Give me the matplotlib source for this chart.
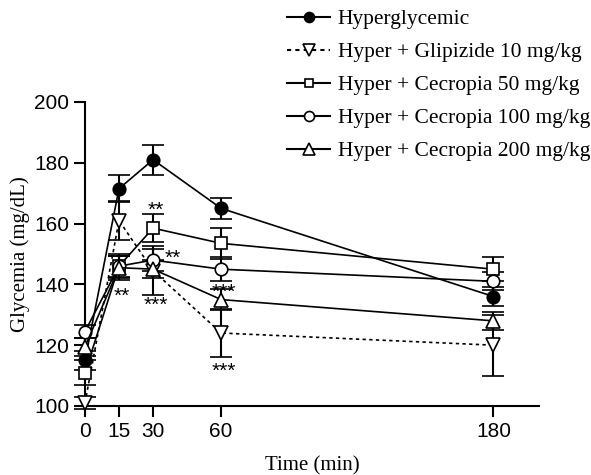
import matplotlib
matplotlib.use("Agg")
import matplotlib.pyplot as plt
from matplotlib.lines import Line2D

# time points (min)
time = [0, 15, 30, 60, 180]

# glycemia means and SEM (mg/dL)
hyper = [115, 171.5, 181, 165, 136]
hyper_err = [3, 4.5, 5, 3.5, 3]
glipizide = [101, 161, 144.5, 124, 120]
glipizide_err = [2, 6.5, 8, 8, 10]
cec50 = [111, 146, 158.5, 153.5, 145]
cec50_err = [4, 4, 4.5, 5, 4]
cec100 = [124.5, 146, 148, 145, 141]
cec100_err = [2, 3.5, 3.5, 4, 3]
cec200 = [119.5, 145.5, 145, 135, 128]
cec200_err = [3, 4, 3, 3.5, 3]

series_labels = ["Hyperglycemic", "Hyper + Glipizide 10 mg/kg",
                 "Hyper + Cecropia 50 mg/kg", "Hyper + Cecropia 100 mg/kg",
                 "Hyper + Cecropia 200 mg/kg"]

# significance marks (time, glycemia, text)
stars_x = [31, 38.5, 16, 31, 61, 61]
stars_y = [164.5, 148.5, 136, 133, 137.5, 111.5]
stars_txt = ["**", "**", "**", "***", "***", "***"]

fig = plt.figure(figsize=(5.91, 4.75), dpi=100)
ax = fig.add_axes([0.1438, 0.1453, 0.768, 0.64])

styles = [
    (hyper, hyper_err, "o", "black", "-", 9),
    (glipizide, glipizide_err, "v", "white", (0, (2, 2)), 10),
    (cec50, cec50_err, "s", "white", "-", 8),
    (cec100, cec100_err, "o", "white", "-", 9),
    (cec200, cec200_err, "^", "white", "-", 10),
]
handles = []
for (vals, err, mk, fc, ls, ms), lab in zip(styles, series_labels):
    ax.errorbar(time, vals, yerr=err, color="black", marker=mk, mfc=fc,
                mec="black", ms=ms, mew=1.2, lw=1.2,
                ls=ls, capsize=8, capthick=1.8, elinewidth=1.5,
                clip_on=False, zorder=3)
    handles.append(Line2D([], [], color="black", marker=mk, mfc=fc,
                          mec="black", ms=ms * 0.8, mew=1.2, lw=1.5, ls=ls))

for x, y, t in zip(stars_x, stars_y, stars_txt):
    ax.text(x, y, t, ha="center", va="center", fontsize=15,
            family="Liberation Sans")

ax.set_xlim(0, 200)
ax.set_ylim(100, 200)
ax.set_xticks(time)
ax.set_yticks(range(100, 201, 20))
for s in ["top", "right"]:
    ax.spines[s].set_visible(False)
for s in ["left", "bottom"]:
    ax.spines[s].set_linewidth(1.5)
ax.tick_params(length=8, width=1.5, labelsize=15)
for lbl in ax.get_xticklabels() + ax.get_yticklabels():
    lbl.set_family("Liberation Sans")

ax.set_xlabel("Time (min)", family="Liberation Serif", fontsize=15, labelpad=11)
ax.set_ylabel("Glycemia (mg/dL)", family="Liberation Serif", fontsize=15, labelpad=3)

leg = fig.legend(handles=handles, labels=series_labels,
                 loc="upper left", bbox_to_anchor=(283 / 591, 0.99),
                 frameon=False,
                 prop={"family": "Liberation Serif", "size": 15.5},
                 handlelength=2.0, handletextpad=0.35, labelspacing=0.6,
                 borderaxespad=0, borderpad=0.2)

fig.savefig("out.png", dpi=100)
